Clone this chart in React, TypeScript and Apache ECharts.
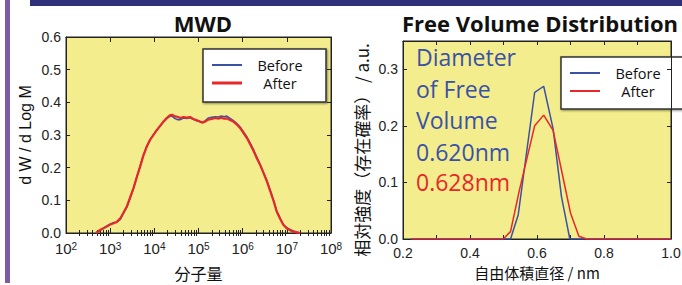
import React, { useEffect, useRef } from "react";
import * as echarts from "echarts";

// ---------- data ----------
const seriesNames = ["Before", "After"];

// MWD: log10(molecular weight)
const mwdLogM = [
  2.68, 2.78, 2.9, 3.0, 3.08, 3.15, 3.23, 3.3, 3.38, 3.45, 3.53, 3.6, 3.68, 3.75, 3.83, 3.9,
  3.98, 4.05, 4.13, 4.2, 4.28, 4.35, 4.4, 4.45, 4.52, 4.59, 4.66, 4.73, 4.81, 4.88, 4.95, 5.02,
  5.08, 5.15, 5.22, 5.3, 5.38, 5.45, 5.52, 5.58, 5.64, 5.7, 5.79, 5.87, 5.95, 6.02, 6.1, 6.17,
  6.25, 6.32, 6.4, 6.47, 6.55, 6.62, 6.7, 6.77, 6.85, 6.92, 7.0, 7.08, 7.15, 7.22, 7.3,
];
const mwdBefore = [
  0, 0.009, 0.019, 0.027, 0.032, 0.033, 0.042, 0.06, 0.08, 0.106, 0.137, 0.17, 0.205, 0.237, 0.266, 0.285,
  0.301, 0.314, 0.327, 0.339, 0.35, 0.357, 0.358, 0.352, 0.347, 0.347, 0.352, 0.351, 0.353, 0.348, 0.344, 0.341,
  0.338, 0.343, 0.352, 0.354, 0.356, 0.355, 0.358, 0.356, 0.358, 0.352, 0.344, 0.335, 0.323, 0.309, 0.293, 0.275,
  0.254, 0.232, 0.209, 0.186, 0.16, 0.132, 0.1, 0.068, 0.045, 0.026, 0.016, 0.01, 0.006, 0.003, 0,
];
const mwdAfter = [
  0, 0.01, 0.018, 0.026, 0.03, 0.034, 0.045, 0.062, 0.082, 0.108, 0.138, 0.17, 0.204, 0.236, 0.265, 0.284,
  0.3, 0.314, 0.328, 0.34, 0.352, 0.36, 0.362, 0.358, 0.356, 0.352, 0.355, 0.353, 0.355, 0.349, 0.346, 0.342,
  0.338, 0.341, 0.347, 0.349, 0.352, 0.35, 0.353, 0.35, 0.351, 0.347, 0.341, 0.332, 0.32, 0.306, 0.29, 0.272,
  0.25, 0.229, 0.207, 0.184, 0.157, 0.13, 0.098, 0.066, 0.043, 0.025, 0.014, 0.008, 0.004, 0.002, 0,
];

// Free volume distribution: diameter (nm) and relative intensity
const fvBeforeX = [0.225, 0.521, 0.544, 0.593, 0.62, 0.648, 0.673, 0.698, 1.0];
const fvBeforeY = [0, 0, 0.043, 0.259, 0.27, 0.195, 0.075, 0, 0];
const fvAfterX = [0.225, 0.499, 0.521, 0.547, 0.593, 0.62, 0.648, 0.673, 0.7, 0.725, 0.748, 1.0];
const fvAfterY = [0, 0, 0.013, 0.085, 0.2, 0.219, 0.192, 0.122, 0.046, 0.005, 0, 0];

const mwdDecades = [2, 3, 4, 5, 6, 7, 8];
const fvTickLabels = ["0.2", "0.4", "0.6", "0.8", "1.0"];

const annotationLines = ["Diameter", "of Free", "Volume", "0.620nm", "0.628nm"];

// ---------- styles ----------
const BLUE = "#3a52a6";
const RED = "#e8272b";
const YELLOW = "#f3ed8d";
const AXIS = "#222";
const LABEL_FONT = "Liberation Sans";
const UI_FONT = "Open Sans";

const minorLogTicks: number[] = [];
for (let n = mwdDecades[0]; n < mwdDecades[mwdDecades.length - 1]; n++) {
  for (let k = 2; k <= 9; k++) minorLogTicks.push(n + Math.log10(k));
}

const axisLineStyle = { color: AXIS, width: 1 };

function baseAxis(extra: any) {
  return {
    axisLine: { show: true, onZero: false, lineStyle: axisLineStyle },
    splitLine: { show: false },
    ...extra,
  };
}

// legend box drawn as graphic: box rect, sample lines, centred labels
function legendBox(x: number, y: number, w: number, h: number, lineX: number, textX: number, rows: number[], redWidth: number) {
  const colors = [BLUE, RED];
  const widths = [2, redWidth];
  return {
    type: "group",
    z: 90,
    children: [
      {
        type: "rect",
        shape: { x, y, width: w, height: h },
        style: {
          fill: "#fff",
          stroke: "#333",
          lineWidth: 1.5,
          shadowColor: "rgba(0,0,0,0.45)",
          shadowBlur: 2,
          shadowOffsetX: 1,
          shadowOffsetY: 1,
        },
      },
      ...seriesNames.flatMap((name, i) => [
        {
          type: "line",
          shape: { x1: lineX, y1: rows[i], x2: lineX + 30, y2: rows[i] },
          style: { stroke: colors[i], lineWidth: widths[i] },
        },
        {
          type: "text",
          x: textX,
          y: rows[i],
          style: {
            text: name,
            fontFamily: UI_FONT,
            fontSize: 14.5,
            fill: "#111",
            align: "center",
            verticalAlign: "middle",
          },
        },
      ]),
    ],
  };
}

export default function App() {
  const ref = useRef<HTMLDivElement>(null);

  useEffect(() => {
    if (!ref.current) return;
    const chart = echarts.init(ref.current, null, { renderer: "svg" });

    const labelStyle = { fontFamily: LABEL_FONT, fontSize: 14, color: AXIS };

    const gridBase = {
      show: true,
      backgroundColor: YELLOW,
      borderColor: AXIS,
      borderWidth: 1,
      containLabel: false,
      outerBoundsMode: "none",
    };

    const option: any = {
      animation: false,
      backgroundColor: "#ffffff",
      graphic: [
        { type: "rect", shape: { x: 30, y: 0, width: 652, height: 6 }, style: { fill: "#2d3079" }, z: 0 },
        { type: "rect", shape: { x: 5, y: 0, width: 5, height: 283 }, style: { fill: "#7d5ba6" }, z: 0 },
        {
          type: "text",
          x: 203,
          y: 23,
          style: {
            text: "MWD",
            fontFamily: UI_FONT,
            fontWeight: "bold",
            fontSize: 22,
            fill: "#111",
            align: "center",
            verticalAlign: "middle",
          },
        },
        {
          type: "text",
          x: 540,
          y: 23,
          style: {
            text: "Free Volume Distribution",
            fontFamily: UI_FONT,
            fontWeight: "bold",
            fontSize: 22,
            fill: "#111",
            align: "center",
            verticalAlign: "middle",
          },
        },
        ...annotationLines.map((t, i) => ({
          type: "text",
          x: 416,
          y: [57, 89, 120, 152, 182][i],
          z: 100,
          style: {
            text: t,
            fontFamily: UI_FONT,
            fontSize: 23,
            fill: i === 4 ? RED : BLUE,
            align: "left",
            verticalAlign: "middle",
          },
        })),
        legendBox(203, 49, 123, 53, 212, 280, [65, 83], 3),
        legendBox(561, 57, 140, 52, 570, 638, [73, 91], 2),
      ],
      grid: [
        { ...gridBase, left: 66, top: 37, width: 265, height: 196 },
        { ...gridBase, left: 403, top: 41, width: 268, height: 198 },
      ],
      xAxis: [
        // 0: MWD bottom, labels + decade ticks
        baseAxis({
          type: "value",
          gridIndex: 0,
          position: "bottom",
          min: mwdDecades[0],
          max: mwdDecades[mwdDecades.length - 1],
          interval: 1,
          axisTick: { show: true, inside: true, length: 5, lineStyle: axisLineStyle },
          axisLabel: {
            show: true,
            margin: 8,
            showMinLabel: true,
            showMaxLabel: true,
            formatter: (v: number) => `{b|10}{s|${Math.round(v)}}`,
            rich: {
              b: { fontFamily: LABEL_FONT, fontSize: 15, color: AXIS, lineHeight: 14 },
              s: { fontFamily: LABEL_FONT, fontSize: 10, color: AXIS, lineHeight: 14, verticalAlign: "top" },
            },
          },
          name: "分子量",
          nameLocation: "middle",
          nameGap: 32,
          nameTextStyle: { fontFamily: "Noto Sans CJK JP", fontSize: 16, color: "#111" },
        }),
        // 1: MWD bottom minor ticks
        baseAxis({
          type: "value",
          gridIndex: 0,
          position: "bottom",
          min: mwdDecades[0],
          max: mwdDecades[mwdDecades.length - 1],
          axisLine: { show: false },
          axisLabel: { show: false },
          axisTick: { show: true, inside: true, length: 3, customValues: minorLogTicks, lineStyle: axisLineStyle },
        }),
        // 2: MWD top decade ticks
        baseAxis({
          type: "value",
          gridIndex: 0,
          position: "top",
          min: mwdDecades[0],
          max: mwdDecades[mwdDecades.length - 1],
          interval: 1,
          axisLabel: { show: false },
          axisTick: { show: true, inside: true, length: 5, lineStyle: axisLineStyle },
        }),
        // 3: MWD top minor ticks
        baseAxis({
          type: "value",
          gridIndex: 0,
          position: "top",
          min: mwdDecades[0],
          max: mwdDecades[mwdDecades.length - 1],
          axisLine: { show: false },
          axisLabel: { show: false },
          axisTick: { show: true, inside: true, length: 3, customValues: minorLogTicks, lineStyle: axisLineStyle },
        }),
        // 4: FV bottom
        baseAxis({
          type: "value",
          gridIndex: 1,
          position: "bottom",
          min: 0.2,
          max: 1.0,
          interval: 0.1,
          axisTick: { show: true, inside: true, length: 4, lineStyle: axisLineStyle },
          axisLabel: {
            ...labelStyle,
            margin: 7,
            showMinLabel: true,
            showMaxLabel: true,
            formatter: (v: number) => {
              const s = v.toFixed(1);
              return fvTickLabels.includes(s) ? s : "";
            },
          },
          name: "自由体積直径 / nm",
          nameLocation: "middle",
          nameGap: 26,
          nameTextStyle: { fontFamily: "Noto Sans CJK JP", fontSize: 15, color: "#111" },
        }),
        // 5: FV top
        baseAxis({
          type: "value",
          gridIndex: 1,
          position: "top",
          min: 0.2,
          max: 1.0,
          interval: 0.1,
          axisLabel: { show: false },
          axisTick: { show: true, inside: true, length: 4, lineStyle: axisLineStyle },
        }),
      ],
      yAxis: [
        baseAxis({
          type: "value",
          gridIndex: 0,
          position: "left",
          min: 0,
          max: 0.6,
          interval: 0.1,
          axisTick: { show: true, inside: true, length: 4, lineStyle: axisLineStyle },
          axisLabel: { ...labelStyle, margin: 5, formatter: (v: number) => v.toFixed(1) },
          name: "d W / d Log M",
          nameLocation: "middle",
          nameGap: 33,
          nameTextStyle: { fontFamily: LABEL_FONT, fontSize: 16, color: "#111" },
        }),
        baseAxis({
          type: "value",
          gridIndex: 0,
          position: "right",
          min: 0,
          max: 0.6,
          interval: 0.1,
          axisLabel: { show: false },
          axisTick: { show: true, inside: true, length: 4, lineStyle: axisLineStyle },
        }),
        baseAxis({
          type: "value",
          gridIndex: 1,
          position: "left",
          min: 0,
          max: 0.35,
          interval: 0.1,
          axisTick: { show: true, inside: true, length: 4, lineStyle: axisLineStyle },
          axisLabel: { ...labelStyle, margin: 5, formatter: (v: number) => (v < 0.31 ? v.toFixed(1) : "") },
          name: "相対強度（存在確率） / a.u.",
          nameLocation: "middle",
          nameGap: 33,
          nameTextStyle: { fontFamily: "Noto Sans CJK JP", fontSize: 17, color: "#111", padding: [0, 20, 0, 0] },
        }),
        baseAxis({
          type: "value",
          gridIndex: 1,
          position: "right",
          min: 0,
          max: 0.35,
          interval: 0.1,
          axisLabel: { show: false },
          axisTick: { show: true, inside: true, length: 4, lineStyle: axisLineStyle },
        }),
      ],
      series: [
        {
          name: seriesNames[0],
          type: "line",
          xAxisIndex: 0,
          yAxisIndex: 0,
          showSymbol: false,
          symbol: "none",
          lineStyle: { color: BLUE, width: 1.6 },
          itemStyle: { color: BLUE },
          data: mwdLogM.map((x, i) => [x, mwdBefore[i]]),
          z: 3,
        },
        {
          name: seriesNames[1],
          type: "line",
          xAxisIndex: 0,
          yAxisIndex: 0,
          showSymbol: false,
          symbol: "none",
          lineStyle: { color: RED, width: 2.2 },
          itemStyle: { color: RED },
          data: mwdLogM.map((x, i) => [x, mwdAfter[i]]),
          z: 4,
        },
        {
          name: seriesNames[0],
          type: "line",
          xAxisIndex: 4,
          yAxisIndex: 2,
          showSymbol: false,
          symbol: "none",
          lineStyle: { color: BLUE, width: 1.5 },
          itemStyle: { color: BLUE },
          data: fvBeforeX.map((x, i) => [x, fvBeforeY[i]]),
          z: 3,
        },
        {
          name: seriesNames[1],
          type: "line",
          xAxisIndex: 4,
          yAxisIndex: 2,
          showSymbol: false,
          symbol: "none",
          lineStyle: { color: RED, width: 1.5 },
          itemStyle: { color: RED },
          data: fvAfterX.map((x, i) => [x, fvAfterY[i]]),
          z: 4,
        },
      ],
    };

    chart.setOption(option);
    return () => chart.dispose();
  }, []);

  return (
    <div
      ref={ref}
      style={{ position: "fixed", left: 0, top: 0, width: 682, height: 285, background: "#fff" }}
    />
  );
}
